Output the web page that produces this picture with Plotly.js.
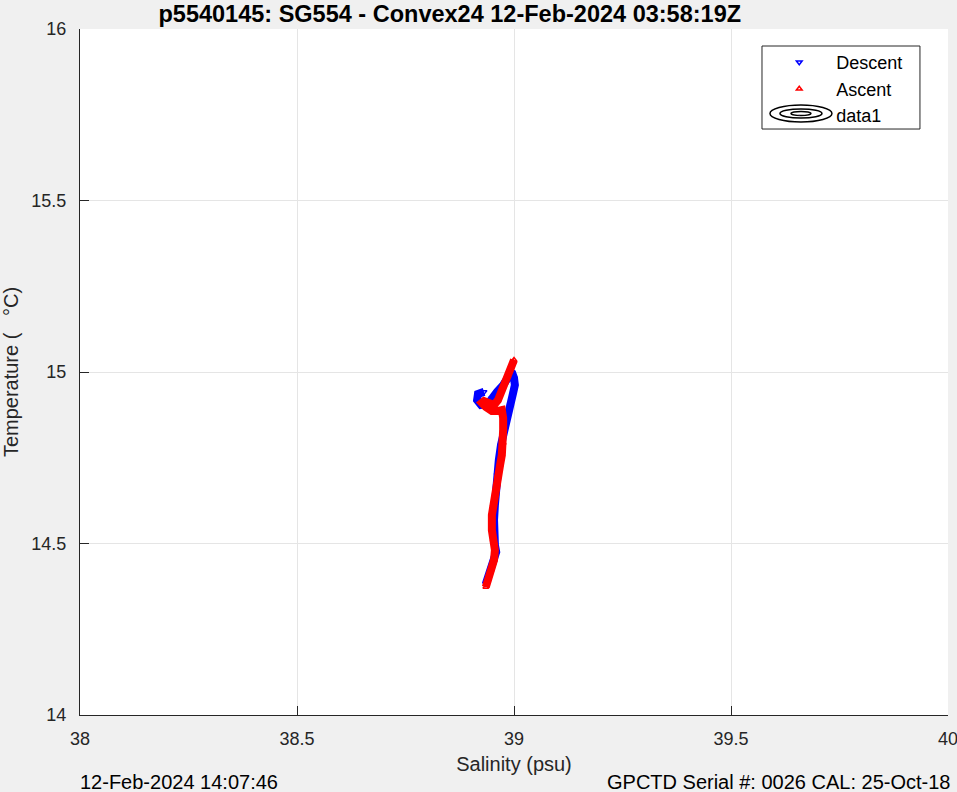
<!DOCTYPE html>
<html>
<head>
<meta charset="utf-8">
<script src="https://cdn.plot.ly/plotly-3.0.1.min.js"></script>
<style>
html,body{margin:0;padding:0;background:#f0f0f0;}
#chart{width:957px;height:792px;}
</style>
</head>
<body>
<div id="chart"></div>
<script>
// Descent (blue) salinity / temperature
const descentSalinity = [38.931,38.917,38.915,38.924,38.940,38.949,38.961,38.975,38.986,38.995,39.000,39.002,38.998,38.991,38.984,38.979,38.975,38.970,38.965,38.961,38.959,38.956,38.954,38.954,38.956,38.959,38.954,38.947,38.940,38.935];
const descentTemp = [14.942,14.936,14.918,14.904,14.907,14.924,14.942,14.962,14.983,15.000,14.983,14.962,14.939,14.904,14.875,14.845,14.822,14.787,14.743,14.700,14.656,14.612,14.569,14.525,14.496,14.475,14.452,14.423,14.399,14.382];
// Ascent (red)
const ascentSalinity = [38.935,38.940,38.947,38.954,38.956,38.952,38.949,38.949,38.952,38.956,38.961,38.963,38.968,38.972,38.975,38.975,38.975,38.972,38.961,38.949,38.935,38.926,38.931,38.942,38.954,38.963,38.972,38.979,38.986,38.993,38.998,39.000];
const ascentTemp = [14.373,14.394,14.423,14.452,14.481,14.510,14.539,14.583,14.612,14.641,14.671,14.700,14.729,14.758,14.793,14.831,14.866,14.889,14.886,14.886,14.898,14.910,14.915,14.910,14.904,14.918,14.948,14.968,14.988,15.012,15.029,15.035];

const xTicks = [38, 38.5, 39, 39.5, 40];
const xTickLabels = ['38', '38.5', '39', '39.5', '40'];
const yTicks = [14, 14.5, 15, 15.5, 16];
const yTickLabels = ['14', '14.5', '15', '15.5', '16'];

const titleText = 'p5540145: SG554 - Convex24 12-Feb-2024 03:58:19Z';
const leftFooter = '12-Feb-2024 14:07:46';
const rightFooter = 'GPCTD Serial #: 0026 CAL: 25-Oct-18';

const FONT = 'Liberation Sans, Arial, Helvetica, sans-serif';
const AX = '#262626';

const traces = [
  {x: descentSalinity, y: descentTemp, type: 'scatter', mode: 'lines',
   line: {color: 'rgb(0,0,255)', width: 8}, showlegend: false, hoverinfo: 'skip'},
  {x: descentSalinity, y: descentTemp, type: 'scatter', mode: 'markers', name: 'Descent',
   marker: {symbol: 'triangle-down-open', color: 'rgb(0,0,255)', size: 5, line: {width: 1.5, color: 'rgb(0,0,255)'}}},
  {x: ascentSalinity, y: ascentTemp, type: 'scatter', mode: 'lines',
   line: {color: 'rgb(255,0,0)', width: 8}, showlegend: false, hoverinfo: 'skip'},
  {x: ascentSalinity, y: ascentTemp, type: 'scatter', mode: 'markers', name: 'Ascent',
   marker: {symbol: 'triangle-up-open', color: 'rgb(255,0,0)', size: 5, line: {width: 1.5, color: 'rgb(255,0,0)'}}},
  {x: [null], y: [null], type: 'scatter', mode: 'markers', name: 'data1',
   marker: {opacity: 0, size: 1}}
];

// legend box and data1 icon (contour ellipses), in paper coordinates
const cx = 0.8306, cy = 0.8768;
function ell(w, h) {
  return {type: 'circle', xref: 'paper', yref: 'paper', layer: 'above',
    x0: cx - w / 2, x1: cx + w / 2, y0: cy - h / 2, y1: cy + h / 2,
    line: {color: '#000', width: 1.5}, fillcolor: 'rgba(0,0,0,0)'};
}
const legendBox = {type: 'rect', xref: 'paper', yref: 'paper', layer: 'above',
  x0: 0.7857, x1: 0.9677, y0: 0.8542, y1: 0.9752,
  line: {color: AX, width: 1}, fillcolor: '#ffffff'};

const layout = {
  width: 957, height: 792,
  paper_bgcolor: '#f0f0f0', plot_bgcolor: '#ffffff',
  margin: {l: 80, r: 9, t: 29, b: 77},
  font: {family: FONT, size: 18, color: AX},
  title: {text: '<b>' + titleText + '</b>', font: {family: FONT, size: 23.5, color: '#000'},
    x: 0.426, xref: 'paper', xanchor: 'center', y: 0.983, yanchor: 'middle'},
  xaxis: {range: [38, 40], tickvals: xTicks, ticktext: xTickLabels,
    showgrid: true, gridcolor: '#e5e5e5', gridwidth: 1, zeroline: false,
    showline: true, linecolor: AX, linewidth: 1, mirror: false,
    ticks: 'inside', ticklen: 9, tickcolor: AX, tickwidth: 1, ticklabelstandoff: 7,
    ticklabeloverflow: 'allow',
    tickfont: {family: FONT, size: 18, color: AX},
    title: {text: 'Salinity (psu)', font: {family: FONT, size: 20, color: AX}, standoff: 9}},
  yaxis: {range: [14, 16], tickvals: yTicks, ticktext: yTickLabels,
    showgrid: true, gridcolor: '#e5e5e5', gridwidth: 1, zeroline: false,
    showline: true, linecolor: AX, linewidth: 1, mirror: false,
    ticks: 'inside', ticklen: 9, tickcolor: AX, tickwidth: 1, ticklabelstandoff: 9,
    ticklabeloverflow: 'allow',
    tickfont: {family: FONT, size: 18, color: AX},
    title: {text: 'Temperature (   °C)', font: {family: FONT, size: 20, color: AX}, standoff: 8}},
  legend: {x: 0.786, y: 0.978, xanchor: 'left', yanchor: 'top',
    bgcolor: 'rgba(0,0,0,0)', borderwidth: 0,
    font: {family: FONT, size: 18, color: '#000'}, itemwidth: 64, tracegroupgap: 0},
  shapes: [legendBox, ell(0.0714, 0.0248), ell(0.0484, 0.0131), ell(0.023, 0.0058)],
  annotations: [
    {text: leftFooter, xref: 'paper', yref: 'paper', x: -0.002, y: -0.097, xanchor: 'left', yanchor: 'middle',
     showarrow: false, font: {family: FONT, size: 20, color: '#000'}},
    {text: rightFooter, xref: 'paper', yref: 'paper', x: 1.005, y: -0.097, xanchor: 'right', yanchor: 'middle',
     showarrow: false, font: {family: FONT, size: 20, color: '#000'}}
  ],
  showlegend: true
};

Plotly.newPlot('chart', traces, layout, {displayModeBar: false, staticPlot: true});
</script>
</body>
</html>
